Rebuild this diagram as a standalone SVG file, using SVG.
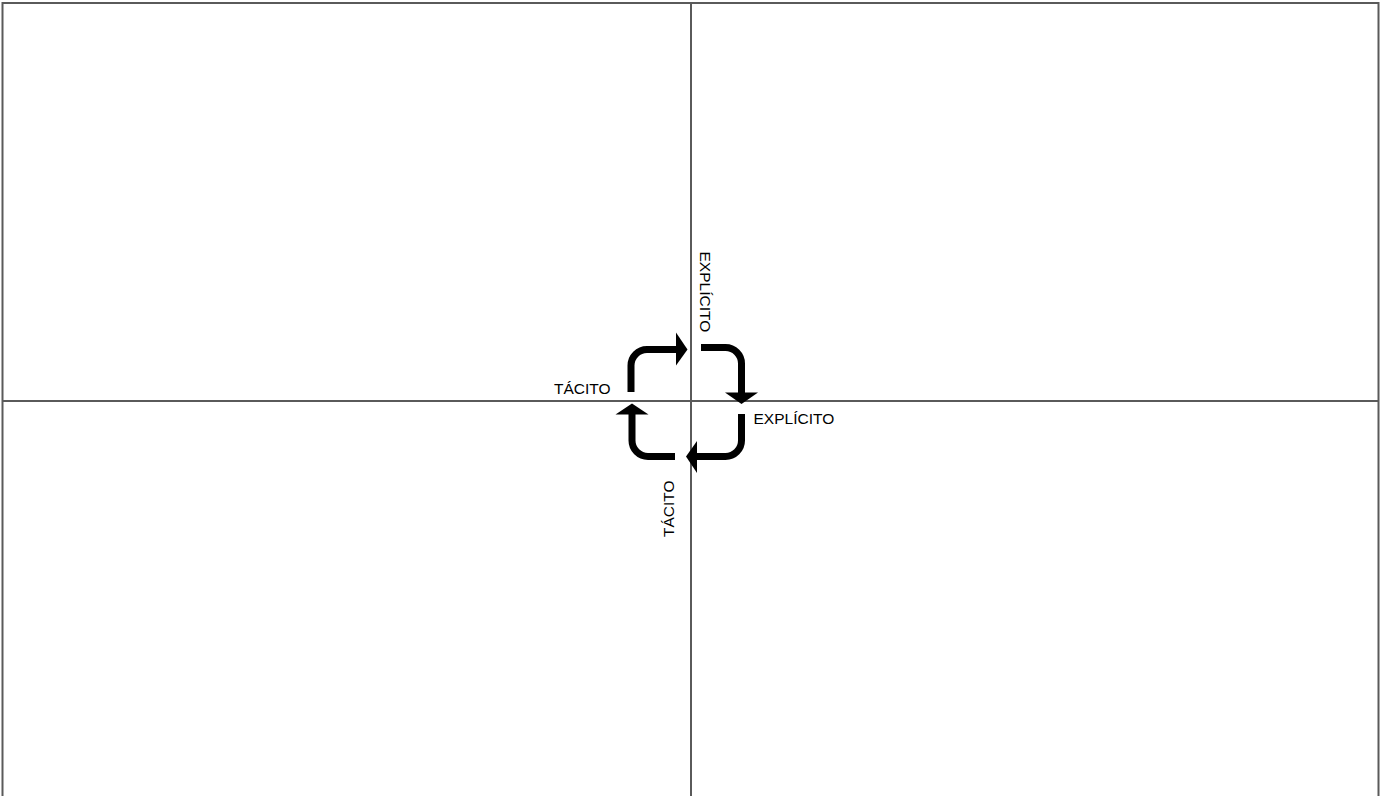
<svg xmlns="http://www.w3.org/2000/svg" width="1380" height="796" viewBox="0 0 1380 796">
<style>
.frame{fill:none;stroke:#5a5a5a;stroke-width:2}
.arrow{fill:none;stroke:#000;stroke-width:7}
.head{fill:#000}
.lbl{font-family:"Liberation Sans",Arial,sans-serif;font-size:15.5px;fill:#000}
</style>
<rect width="1380" height="796" fill="#fff"/>
<g id="axes">
<path class="frame" d="M2.5,796 V3 H1378.5 V796"/>
<path class="frame" d="M691,3 V796"/>
<path class="frame" d="M2.5,401 H1378.5"/>
</g>
<g id="connectors">
<path class="arrow" d="M631,392 V365.5 A16 16 0 0 1 647,349.5 H677"/>
<polygon class="head" points="676,332.5 687.5,349.5 676,365.5"/>
<path class="arrow" d="M701,347.5 H725.5 A16 16 0 0 1 741.5,363.5 V393"/>
<polygon class="head" points="725,392.5 758,392.5 741.5,404"/>
<path class="arrow" d="M741.5,414 V440.5 A16 16 0 0 1 725.5,456.5 H697"/>
<polygon class="head" points="697,441 697,473 686,456.5"/>
<path class="arrow" d="M675,456.5 H648 A16 16 0 0 1 632,440.5 V414"/>
<polygon class="head" points="615.5,414.5 648.5,414.5 632,403.5"/>
</g>
<g id="label-tacito-left"><text class="lbl" x="554" y="394">TÁCITO</text></g>
<g id="label-explicito-right"><text class="lbl" x="753.5" y="424">EXPLÍCITO</text></g>
<g id="label-explicito-top"><text class="lbl" transform="translate(699.5,251.5) rotate(90)" x="0" y="0">EXPLÍCITO</text></g>
<g id="label-tacito-bottom"><text class="lbl" transform="translate(673.5,537) rotate(-90)" x="0" y="0">TÁCITO</text></g>
</svg>
